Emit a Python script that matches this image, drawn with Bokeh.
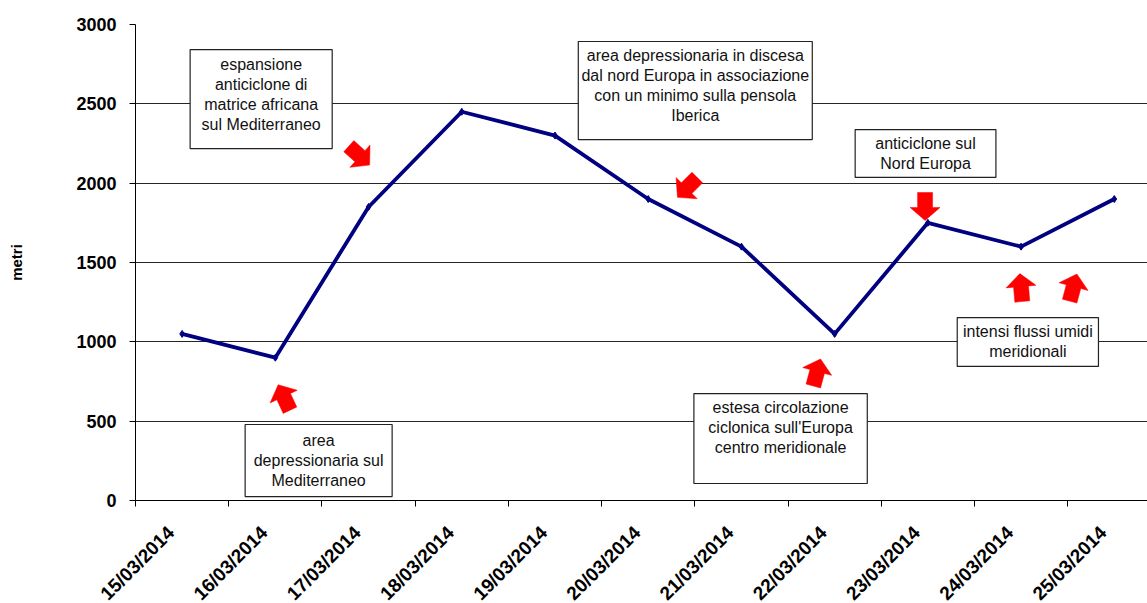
import math
from bokeh.plotting import figure
from bokeh.models import Range1d, FixedTicker, ColumnDataSource
from bokeh.embed import file_html
from bokeh.resources import INLINE
from bokeh.core.properties import value

# ---------------- data ----------------
dates = ["15/03/2014", "16/03/2014", "17/03/2014", "18/03/2014", "19/03/2014",
         "20/03/2014", "21/03/2014", "22/03/2014", "23/03/2014", "24/03/2014",
         "25/03/2014"]
metri = [1050, 900, 1850, 2450, 2300, 1900, 1600, 1050, 1750, 1600, 1900]
y_ticks = [0, 500, 1000, 1500, 2000, 2500, 3000]
y_label = "metri"

# annotation texts
note_lines = [
    ["espansione", "anticiclone di", "matrice africana", "sul Mediterraneo"],
    ["area depressionaria in discesa", "dal nord Europa in associazione",
     "con un minimo sulla pensola", "Iberica"],
    ["area", "depressionaria sul", "Mediterraneo"],
    ["anticiclone sul", "Nord Europa"],
    ["intensi flussi umidi", "meridionali"],
    ["estesa circolazione", "ciclonica sull'Europa", "centro meridionale"],
]
# boxes in category-index / metri units
note_left = [0.086, 4.25, 0.676, 7.22, 8.315, 5.49]
note_right = [1.61, 6.76, 2.253, 8.73, 9.83, 7.35]
note_top = [2842, 2893, 479, 2338, 1153, 674]
note_bottom = [2218, 2275, 25, 2036, 845, 107]
note_text_y = [2559, 2616, 252, 2187, 1005, 460]

# block arrows (centre in category index / metri, pointing angle in degrees)
arrow_x = [1.90, 5.42, 1.094, 6.81, 7.97, 9.00, 9.56]
arrow_y = [2174, 1973, 649, 807, 1853, 1342, 1342]
arrow_dir = [-42, -135, 115, 75, -90, 95, 75]

# ---------------- layout ----------------
PX_PER_CAT = 93.22
FRAME_W, FRAME_H = 1012, 476
X0 = -0.5
X1 = X0 + FRAME_W / PX_PER_CAT
Y0, Y1 = 0, 3000
PX_X = FRAME_W / (X1 - X0)
PX_Y = FRAME_H / (Y1 - Y0)
FONT = "Liberation Sans"
LINE_PX = 20
LABEL_SHIFT = 0.12   # rotated date labels sit slightly left of the category centre

p = figure(frame_width=FRAME_W, frame_height=FRAME_H,
           x_range=Range1d(X0, X1), y_range=Range1d(Y0, Y1),
           output_backend="svg", toolbar_location=None,
           min_border_left=135, min_border_right=0,
           min_border_top=24, min_border_bottom=100,
           background_fill_color="white", border_fill_color="white")
p.outline_line_color = None
p.xgrid.grid_line_color = None
p.ygrid.grid_line_color = "#000000"
p.ygrid.grid_line_width = 1
p.ygrid.grid_line_alpha = 0.85

# y axis
p.yaxis.ticker = FixedTicker(ticks=y_ticks)
p.yaxis.axis_line_color = "black"
p.yaxis.major_tick_out = 6
p.yaxis.major_tick_in = 0
p.yaxis.minor_tick_line_color = None
p.yaxis.major_label_text_font = FONT
p.yaxis.major_label_text_font_style = "bold"
p.yaxis.major_label_text_font_size = "18px"
p.yaxis.major_label_text_color = "black"
p.yaxis.major_label_standoff = 13
p.yaxis.axis_label = y_label
p.yaxis.axis_label_text_font = FONT
p.yaxis.axis_label_text_font_style = "bold"
p.yaxis.axis_label_text_font_size = "15px"
p.yaxis.axis_label_text_color = "black"
p.yaxis.axis_label_standoff = 48

# x axis: labels near category centres, tick marks at boundaries
idx = list(range(len(dates)))
label_pos = [i - LABEL_SHIFT for i in idx]
p.xaxis.ticker = FixedTicker(ticks=label_pos, minor_ticks=[i - 0.5 for i in range(len(dates) + 1)])
p.xaxis.major_label_overrides = {pos: d for pos, d in zip(label_pos, dates)}
p.xaxis.major_label_orientation = math.pi / 4
p.xaxis.major_tick_line_color = None
p.xaxis.major_tick_out = 6
p.xaxis.minor_tick_out = 6
p.xaxis.minor_tick_in = 0
p.xaxis.minor_tick_line_color = "black"
p.xaxis.axis_line_color = "black"
p.xaxis.major_label_text_font = FONT
p.xaxis.major_label_text_font_style = "bold"
p.xaxis.major_label_text_font_size = "19px"
p.xaxis.major_label_text_color = "black"
p.xaxis.major_label_standoff = 23

# series
src = ColumnDataSource(dict(x=idx, y=metri))
p.line("x", "y", source=src, line_color="#000080", line_width=3.8, line_join="round")
p.scatter("x", "y", source=src, marker="diamond", size=7, fill_color="#000080", line_color="#000080")

# annotation boxes
p.quad(left=note_left, right=note_right, top=note_top, bottom=note_bottom,
       fill_color="white", line_color="#222222", line_width=1.2)
tx, ty, tt = [], [], []
for lines, l, r, cy in zip(note_lines, note_left, note_right, note_text_y):
    cx = (l + r) / 2
    n = len(lines)
    for k, s in enumerate(lines):
        tx.append(cx)
        ty.append(cy + ((n - 1) / 2 - k) * LINE_PX / PX_Y)
        tt.append(s)
p.text(x=tx, y=ty, text=tt, text_font=value(FONT), text_font_size="16px",
       text_align="center", text_baseline="middle", text_color="#111111")

# block arrows
L, SW, HW, HL = 28, 15, 30, 13
local = [(-L / 2, -SW / 2), (L / 2 - HL, -SW / 2), (L / 2 - HL, -HW / 2), (L / 2, 0),
         (L / 2 - HL, HW / 2), (L / 2 - HL, SW / 2), (-L / 2, SW / 2)]
xs, ys = [], []
for ax, ay, ad in zip(arrow_x, arrow_y, arrow_dir):
    a = math.radians(ad)
    ca, sa = math.cos(a), math.sin(a)
    xs.append([ax + (u * ca - v * sa) / PX_X for u, v in local])
    ys.append([ay + (u * sa + v * ca) / PX_Y for u, v in local])
p.patches(xs, ys, fill_color="#ff0000", line_color="#ff0000", line_width=0.5)

open("out.html", "w").write(file_html(p, INLINE))
